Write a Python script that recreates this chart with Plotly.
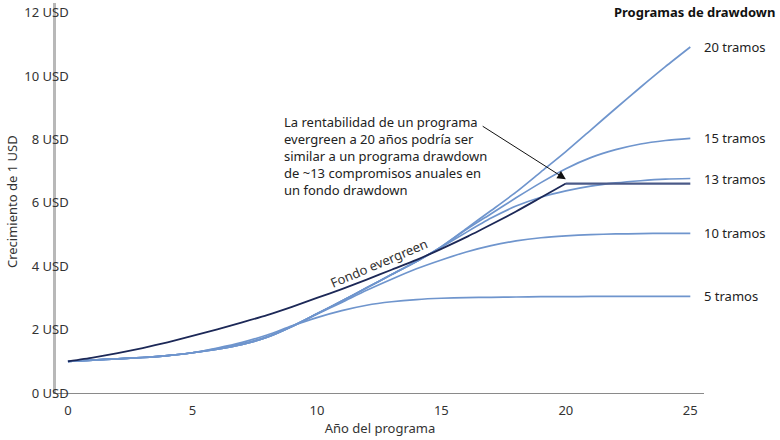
import plotly.graph_objects as go

years = list(range(26))

evergreen = [1.00, 1.12, 1.26, 1.42, 1.60, 1.80, 2.01, 2.23, 2.46, 2.72, 3.00,
             3.28, 3.58, 3.89, 4.20, 4.55, 4.92, 5.32, 5.73, 6.17, 6.61,
             6.61, 6.61, 6.61, 6.61, 6.61]

tramos_20 = [1.00, 1.04, 1.08, 1.12, 1.18, 1.27, 1.38, 1.53, 1.76, 2.10, 2.50,
             2.90, 3.32, 3.74, 4.15, 4.62, 5.19, 5.76, 6.34, 6.98, 7.62,
             8.30, 8.98, 9.65, 10.30, 10.92]
tramos_15 = [1.00, 1.04, 1.08, 1.12, 1.18, 1.27, 1.38, 1.53, 1.76, 2.10, 2.50,
             2.90, 3.32, 3.74, 4.15, 4.62, 5.16, 5.66, 6.16, 6.64, 7.08,
             7.43, 7.68, 7.86, 7.97, 8.04]
tramos_13 = [1.00, 1.04, 1.08, 1.12, 1.18, 1.27, 1.38, 1.53, 1.76, 2.10, 2.50,
             2.90, 3.32, 3.74, 4.15, 4.60, 5.07, 5.52, 5.90, 6.18, 6.38,
             6.53, 6.63, 6.70, 6.75, 6.77]
tramos_10 = [1.00, 1.04, 1.08, 1.12, 1.18, 1.27, 1.40, 1.56, 1.78, 2.11, 2.49,
             2.86, 3.24, 3.59, 3.92, 4.20, 4.45, 4.65, 4.80, 4.90, 4.96,
             5.00, 5.02, 5.03, 5.04, 5.04]
tramos_5 = [1.00, 1.04, 1.08, 1.12, 1.18, 1.27, 1.42, 1.60, 1.83, 2.12, 2.38,
            2.60, 2.77, 2.88, 2.95, 2.99, 3.01, 3.02, 3.03, 3.04, 3.04,
            3.05, 3.05, 3.05, 3.05, 3.05]

series_labels = ["5 tramos", "10 tramos", "13 tramos", "15 tramos", "20 tramos"]
series_values = [tramos_5, tramos_10, tramos_13, tramos_15, tramos_20]

y_ticks = [0, 2, 4, 6, 8, 10, 12]
y_ticktext = ["0 USD", "2 USD", "4 USD", "6 USD", "8 USD", "10 USD", "12 USD"]
x_ticks = [0, 5, 10, 15, 20, 25]

FONT = "Noto Sans"
LIGHT = "#6f95cd"
NAVY = "#1c2857"

fig = go.Figure()

for lab, vals in zip(series_labels, series_values):
    fig.add_trace(go.Scatter(x=years, y=vals, mode="lines", name=lab,
                             line=dict(color=LIGHT, width=1.7, shape="spline", smoothing=0.7),
                             hoverinfo="skip"))
    fig.add_annotation(x=years[-1], y=vals[-1], text=lab, showarrow=False,
                       xanchor="left", xshift=12, font=dict(size=13, color="#222"))

# evergreen rises to year 20 then stays flat
fig.add_trace(go.Scatter(x=years[:21], y=evergreen[:21], mode="lines",
                         line=dict(color=NAVY, width=1.8, shape="spline", smoothing=0.6),
                         hoverinfo="skip"))
fig.add_trace(go.Scatter(x=years[20:], y=evergreen[20:], mode="lines",
                         line=dict(color="#4b5a88", width=2.2),
                         hoverinfo="skip"))

fig.add_annotation(x=12.5, y=4.1, text="Fondo evergreen", textangle=-23,
                   showarrow=False, font=dict(size=13, color="#333"))

fig.add_annotation(x=8.6, y=7.48, xanchor="left", yanchor="middle", align="left",
                   showarrow=False, font=dict(size=13, color="#222"),
                   text="La rentabilidad de un programa<br>evergreen a 20 años podría ser<br>"
                        "similar a un programa drawdown<br>de ~13 compromisos anuales en<br>"
                        "un fondo drawdown")
fig.add_annotation(x=20.0, y=6.75, ax=16.6, ay=8.45, axref="x", ayref="y",
                   text="", showarrow=True, arrowhead=2, arrowsize=1.7,
                   arrowwidth=1, arrowcolor="#111")

fig.add_annotation(xref="paper", yref="paper", x=1.112, y=1.0, yshift=-9,
                   xanchor="right", yanchor="middle", showarrow=False,
                   text="<b>Programas de drawdown</b>", font=dict(size=13, color="#111"))

fig.add_annotation(xref="paper", yref="paper", x=-0.068, y=0.492, textangle=-90,
                   xanchor="center", yanchor="middle",
                   showarrow=False, text="Crecimiento de 1 USD",
                   font=dict(size=13, color="#333"))

fig.update_layout(
    width=780, height=440,
    margin=dict(l=56, r=76, t=3, b=47),
    plot_bgcolor="white", paper_bgcolor="white",
    showlegend=False,
    font=dict(family=FONT, size=13, color="#333"),
    xaxis=dict(range=[-0.48, 25.55], tickvals=x_ticks, showgrid=False, zeroline=False,
               showline=True, linecolor="#8a8a8a", linewidth=1, ticks="",
               ticklabelstandoff=5,
               title=dict(text="Año del programa", font=dict(size=13, color="#333"), standoff=6)),
    yaxis=dict(range=[0, 12.31], tickvals=y_ticks, ticktext=y_ticktext, showgrid=False,
               zeroline=False, showline=True, linecolor="#b8b8b8", linewidth=2.5, ticks="",
               ticklabelstandoff=-18),
)

fig.write_html("out.html", config={"displayModeBar": False},
               post_script="document.body.style.margin='0';")
